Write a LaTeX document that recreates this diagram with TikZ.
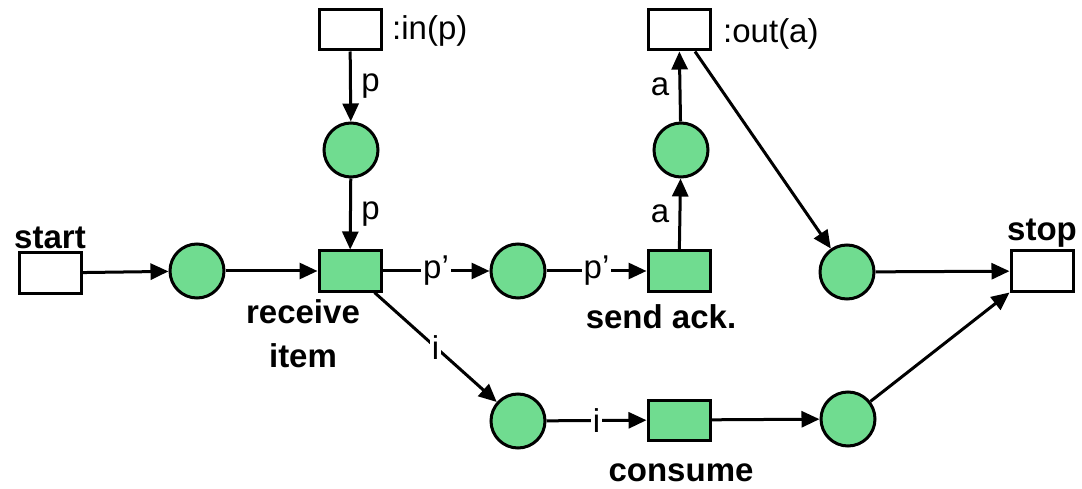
\documentclass[tikz,border=0pt]{standalone}
\usepackage{fontspec}
\setmainfont{Liberation Sans}
\usetikzlibrary{arrows.meta}
\definecolor{placegreen}{RGB}{112,220,144}

\begin{document}
\begin{tikzpicture}[x=1pt,y=-1pt,
  every node/.style={font=\fontsize{33}{38}\selectfont},
  place/.style={circle,draw,line width=3pt,fill=placegreen,minimum size=54pt,inner sep=0pt},
  trans/.style={rectangle,draw,line width=3pt,fill=placegreen,minimum width=62pt,minimum height=40pt,inner sep=0pt},
  port/.style={trans,fill=white},
  arc/.style={line width=3pt,-{Triangle[length=18pt,width=16pt]}},
  lbl/.style={font=\bfseries\fontsize{33}{44}\selectfont,align=center},
  onarc/.style={fill=white,inner sep=2pt}]
				\useasboundingbox (0,0) rectangle (1082,489);
				% ports
				\node[port] (start) at (50,273) {};
				\node[port] (stop) at (1042,271) {};
				\node[port] (in) at (350,30) {};
				\node[port] (out) at (679,30) {};
				% places
				\node[place] (p0) at (197,271) {};
				\node[place] (p1) at (351,150) {};
				\node[place] (p2) at (518,271) {};
				\node[place] (p3) at (681,150) {};
				\node[place] (p4) at (847,272) {};
				\node[place] (p5) at (518,421) {};
				\node[place] (p6) at (848,419) {};
				% transitions
				\node[trans] (recv) at (350,271) {};
				\node[trans] (send) at (679,271) {};
				\node[trans] (cons) at (679,420) {};
				% texts
				\node[lbl,anchor=base] (startlbl) at (50,249) {start};
				\node[lbl,anchor=base] (stoplbl) at (1042,241) {stop};
				\node[anchor=base west,inner sep=0pt] (inlbl) at (392,40) {:in(p)};
				\node[anchor=base west,inner sep=0pt] (outlbl) at (723,43) {:out(a)};
				\node[lbl,anchor=north] (recvlbl) at (303,296) {receive\\item};
				\node[lbl,anchor=base] (sendlbl) at (661,328) {send ack.};
				\node[lbl,anchor=base] (conslbl) at (681,481) {consume};
				% arcs
				\draw[arc] (in) -- node[right,xshift=6pt] {p} (p1);
				\draw[arc] (p1) -- node[right,xshift=6pt] {p} (recv);
				\draw[arc] (start) -- (p0);
				\draw[arc] (p0) -- (recv);
				\draw[arc] (recv) -- node[onarc] {p’} (p2);
				\draw[arc] (p2) -- node[onarc] {p’} (send);
				\draw[arc] (send) -- node[left,xshift=-6pt] {a} (p3);
				\draw[arc] (p3) -- node[left,xshift=-6pt] {a} (out);
				\draw[arc] ([xshift=16pt]out.south) -- (p4);
				\draw[arc] (p4) -- (stop);
				\draw[arc] ([xshift=-8pt]recv.south east) -- node[onarc] {i} (p5);
				\draw[arc] (p5) -- node[onarc] {i} (cons);
				\draw[arc] (cons) -- (p6);
				\draw[arc] (p6) -- (stop.south west);
\end{tikzpicture}
\end{document}
